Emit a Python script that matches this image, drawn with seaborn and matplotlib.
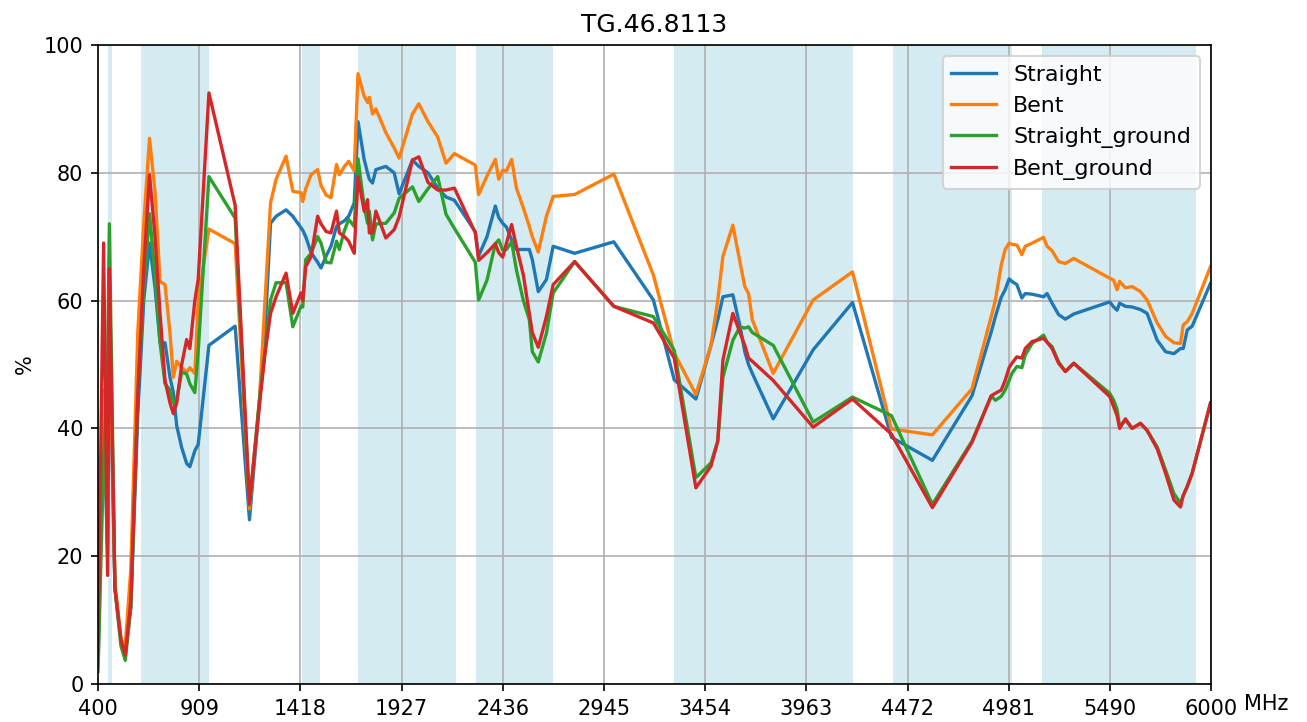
import numpy as np
import pandas as pd
import matplotlib
matplotlib.use("Agg")
import matplotlib.pyplot as plt
import seaborn as sns

# ---------------------------
# Data
# ---------------------------
TITLE = "TG.46.8113"
SERIES = ["Straight", "Bent", "Straight_ground", "Bent_ground"]
COLORS = ["#1f77b4", "#ff7f0e", "#2ca02c", "#d62728"]

FREQ_MHZ = [
    400, 428, 448, 457, 485, 515, 537, 565, 600, 630, 659, 687, 712, 737, 762,
    779, 796, 821, 846, 862, 887, 904, 958, 1090, 1162, 1212, 1240, 1268, 1296,
    1346, 1380, 1421, 1430, 1445, 1472, 1505, 1522, 1548, 1572, 1600, 1614, 1640,
    1661, 1689, 1708, 1739, 1756, 1765, 1781, 1798, 1848, 1890, 1915, 1982, 2014,
    2060, 2109, 2151, 2193, 2298, 2315, 2357, 2399, 2416, 2436, 2455, 2481, 2505,
    2540, 2570, 2585, 2615, 2656, 2690, 2798, 2995, 3194, 3299, 3408, 3484, 3518,
    3544, 3594, 3630, 3654, 3673, 3692, 3797, 3998, 4196, 4392, 4598, 4797, 4894,
    4915, 4944, 4964, 4984, 4998, 5023, 5048, 5065, 5100, 5157, 5175, 5200, 5233,
    5267, 5309, 5490, 5510, 5527, 5540, 5569, 5603, 5645, 5678, 5729, 5771, 5813,
    5846, 5860, 5880, 5905, 5997,
]

straight = [
    3, 42, 20, 55, 15, 7, 5, 12, 42, 60, 69, 62, 53.4, 53.4, 48,
    45.6, 40.4, 37, 34.5, 34, 36.5, 37.5, 53, 56, 25.7, 44, 55, 72.1, 73.2,
    74.2, 73.2, 71.4, 71, 70, 67.5, 66, 65.1, 67, 68.5, 71.6, 72, 72.5,
    73.2, 75.3, 88, 82.1, 80, 79, 78.4, 80.5, 81, 80, 76.7, 82, 81,
    80, 77.6, 76.2, 75.7, 70.8, 67, 70, 74.8, 73, 72.1, 71.5, 69.5, 68,
    68, 68, 66.4, 61.4, 63.3, 68.5, 67.4, 69.2, 60.1, 47.6, 44.6, 53, 57,
    60.6, 60.9, 56, 52, 50, 48.6, 41.5, 52.3, 59.7, 38.6, 35, 45.1, 55.1,
    57.5, 60.5, 61.7, 63.4, 63, 62.5, 60.4, 61.1, 61, 60.6, 61.1, 59.6, 57.8,
    57.1, 57.9, 59.8, 59, 58.5, 59.6, 59.1, 59, 58.6, 58, 53.8, 52, 51.7,
    52.5, 52.5, 55.4, 56, 62.7,
]

bent = [
    6, 46, 22, 58, 16, 7, 6, 18, 55, 72, 85.4, 77, 63, 62.5, 55,
    48, 50.5, 49.5, 48.8, 49.5, 48.6, 60, 71.2, 68.9, 27.4, 44.4, 60, 75.3, 79,
    82.6, 77.1, 76.9, 75.5, 77.5, 79.7, 80.5, 78, 76.5, 76.1, 81.3, 79.7, 81,
    81.8, 80.3, 95.5, 92, 91, 91.8, 89.2, 90, 86.3, 83.9, 82.3, 89.2, 90.8,
    88, 85.6, 81.5, 83, 81.2, 76.6, 79.5, 82.1, 79, 80.4, 80.3, 82.1, 77.6,
    74.5, 71.6, 70, 67.6, 73.2, 76.3, 76.6, 79.8, 64, 51.8, 45.3, 53, 60,
    66.9, 71.8, 66, 62.2, 61.1, 57, 48.6, 60.1, 64.5, 39.9, 39, 46.2, 57.5,
    60.1, 65.5, 68, 69, 68.8, 68.7, 67.2, 68.5, 69, 69.9, 68.5, 67.8, 66.1,
    65.8, 66.6, 63.5, 63.2, 61.7, 63, 62, 62.2, 61.4, 60.1, 56.5, 54.4, 53.4,
    53.3, 56.2, 56.7, 58, 65.3,
]

straight_ground = [
    2, 35, 50, 72, 15, 6, 3.7, 12, 45, 62, 73.6, 64, 53.4, 47, 46,
    44, 44.5, 48.8, 48.5, 47, 45.6, 52, 79.4, 72.9, 28, 44.5, 52, 60.1, 62.8,
    62.8, 55.9, 59.1, 59, 66.4, 67.4, 70, 69, 66, 65.9, 69.3, 68, 71,
    72.7, 71.6, 82.2, 74.8, 72.1, 74, 69.5, 72, 72.1, 73.7, 76, 77.8, 75.5,
    77.5, 79.4, 73.5, 71.3, 66, 60.1, 63.2, 68.9, 69.5, 67.9, 68, 69.2, 64.8,
    60, 57, 52, 50.4, 54.9, 61.2, 66.1, 59.1, 57.5, 52.2, 32.3, 34.6, 38,
    48, 53.8, 55.9, 55.7, 55.9, 55, 53, 41, 44.9, 42, 28.1, 38, 45.1,
    44.4, 45, 46, 47.5, 48.6, 49.7, 49.5, 51.5, 53.3, 54.6, 53.5, 52.8, 50.4,
    48.9, 50.2, 45.5, 44.4, 43, 40.3, 41.3, 40, 40.8, 39.7, 37.1, 33.5, 29.8,
    28.3, 29.5, 30.9, 33, 43.9,
]

bent_ground = [
    5, 69, 17, 65, 15, 7, 4.5, 13, 45, 65, 79.7, 70, 58, 47.5, 44,
    42.3, 44, 50, 53.9, 52.5, 60, 63.3, 92.5, 74.9, 28.2, 43.6, 51.7, 58, 60.6,
    64.3, 58, 61.2, 60, 65.3, 66.9, 73.2, 72, 70.8, 70.6, 74, 70.6, 70,
    69.3, 67.4, 79.4, 74, 75.8, 70.6, 70.6, 74, 69.8, 71.1, 73.1, 82, 82.5,
    78.5, 77.3, 77.3, 77.6, 70.6, 66.3, 67.5, 68.9, 67.5, 66.8, 69, 71.9, 68.5,
    64, 58, 55, 52.7, 57.5, 62.5, 66.1, 59.1, 56.5, 51, 30.7, 34.1, 38,
    50.7, 58, 55, 53, 51, 50.5, 47.5, 40.2, 44.6, 39.1, 27.6, 37.8, 45.1,
    45.5, 46, 47.5, 49.5, 50.2, 51.2, 51, 52.5, 53.6, 54.1, 53.5, 52.5, 50.2,
    48.9, 50.2, 45, 43.4, 42, 40, 41.5, 40, 40.8, 39.7, 36.8, 33, 28.8,
    27.7, 29.5, 30.9, 33, 44,
]

# shaded frequency bands (MHz)
BAND_START = [450, 617, 1427, 1710, 2300, 3300, 4400, 5150]
BAND_END = [470, 960, 1518, 2200, 2690, 4200, 5000, 5925]

XTICK_LABELS = ["400", "909", "1418", "1927", "2436", "2945",
                "3454", "3963", "4472", "4981", "5490", "6000"]
YTICKS = [0, 20, 40, 60, 80, 100]

# ---------------------------
# Plot
# ---------------------------
df = pd.concat([
    pd.DataFrame({"freq": FREQ_MHZ, "eff": vals, "config": name})
    for name, vals in zip(SERIES, [straight, bent, straight_ground, bent_ground])
], ignore_index=True)

fig, ax = plt.subplots(figsize=(1307 / 150, 722 / 150), dpi=150)
fig.subplots_adjust(left=0.075, right=0.9266, top=0.9377, bottom=0.0526)

for lo, hi in zip(BAND_START, BAND_END):
    ax.axvspan(lo, hi, color="lightblue", alpha=0.5, lw=0)

sns.lineplot(data=df, x="freq", y="eff", hue="config", hue_order=SERIES,
             palette=COLORS, estimator=None, sort=False, lw=1.6, ax=ax)

ax.set_xlim(400, 6000)
ax.set_ylim(0, 100)
ax.set_xticks(np.linspace(400, 6000, 12))
ax.set_xticklabels(XTICK_LABELS)
ax.set_yticks(YTICKS)
ax.grid(True)
ax.set_xlabel("")
ax.set_ylabel("%")
ax.set_title(TITLE)
ax.annotate("MHz", xy=(1, 0), xycoords="axes fraction", xytext=(16, -5),
            textcoords="offset points", ha="left", va="top", fontsize=10)

handles, labels = ax.get_legend_handles_labels()
ax.legend(handles, labels, loc="upper right", fontsize=10.6)

fig.savefig("out.png", dpi=150)
